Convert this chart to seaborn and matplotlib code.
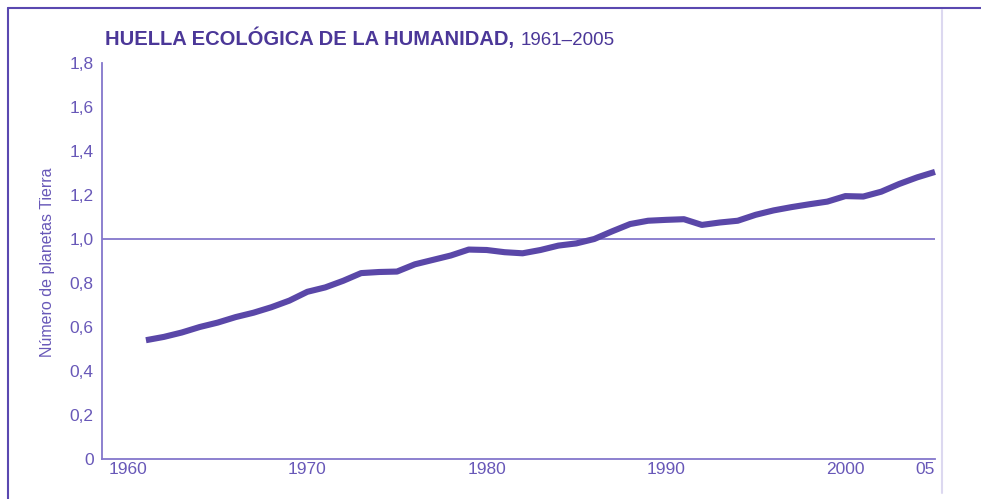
import seaborn as sns
import pandas as pd
import matplotlib.pyplot as plt
from matplotlib.lines import Line2D

# Datos
years = list(range(1961, 2006))
planets = [0.54, 0.555, 0.575, 0.60, 0.62, 0.645, 0.665, 0.69, 0.72, 0.76,
           0.78, 0.81, 0.845, 0.85, 0.852, 0.885, 0.905, 0.925, 0.952, 0.95,
           0.94, 0.935, 0.95, 0.97, 0.98, 1.0, 1.035, 1.068, 1.083, 1.087,
           1.09, 1.064, 1.075, 1.083, 1.11, 1.13, 1.145, 1.158, 1.17, 1.195,
           1.193, 1.215, 1.25, 1.28, 1.305]
xticks = [1960, 1970, 1980, 1990, 2000, 2005]
xticklabels = ["1960", "1970", "1980", "1990", "2000", "05"]
yticks = [0, 0.2, 0.4, 0.6, 0.8, 1.0, 1.2, 1.4, 1.6, 1.8]
yticklabels = ["0", "0,2", "0,4", "0,6", "0,8", "1,0", "1,2", "1,4", "1,6", "1,8"]

data = pd.DataFrame({"Año": years, "Planetas": planets})

sns.set_style("white")
plt.rcParams['font.family'] = ['Liberation Sans', 'DejaVu Sans']

line_c = "#5a47a8"
axis_c = "#8476cc"
text_c = "#6858b8"
title_c = "#4b3798"

W, H = 981, 499
fig = plt.figure(figsize=(W / 100, H / 100), dpi=100)
ax = fig.add_axes([102 / W, (H - 459) / H, (935 - 102) / W, (459 - 63) / H])

sns.lineplot(data=data, x="Año", y="Planetas", ax=ax, color=line_c,
             linewidth=4.4, solid_capstyle="butt", clip_on=False)
ax.axhline(1.0, color=axis_c, linewidth=1.3, zorder=1)

ax.set_xlim(1958.55, 2005)
ax.set_ylim(0, 1.8)
ax.set_xticks(xticks)
ax.set_xticklabels(xticklabels)
ax.set_yticks(yticks)
ax.set_yticklabels(yticklabels)
ax.tick_params(axis="y", direction="in", length=18, width=1.3, color=axis_c,
               labelcolor=text_c, labelsize=12.5, pad=6)
ax.tick_params(axis="x", direction="in", length=9, width=1.3, color=axis_c,
               labelcolor=text_c, labelsize=12.5, pad=2)
ax.get_xticklabels()[-1].set_horizontalalignment("right")

for s in ["top", "right"]:
    ax.spines[s].set_visible(False)
for s in ["left", "bottom"]:
    ax.spines[s].set_color(axis_c)
    ax.spines[s].set_linewidth(1.3)

ax.set_xlabel("")
ax.set_ylabel("")
fig.text(48 / W, 1 - 262 / H, "Número de planetas Tierra", rotation=90,
         ha="center", va="center", color=text_c, fontsize=11.5)

fig.text(105 / W, 1 - 45 / H, "HUELLA ECOLÓGICA DE LA HUMANIDAD,",
         ha="left", va="baseline", color=title_c, fontsize=14.5,
         fontweight="bold")
fig.text(521 / W, 1 - 45 / H, "1961–2005", ha="left", va="baseline",
         color=title_c, fontsize=13.5)

# marco
fig.add_artist(Line2D([8 / W, 8 / W], [0, 1 - 8 / H], transform=fig.transFigure,
                      color="#5a48b0", linewidth=1.5))
fig.add_artist(Line2D([8 / W, 1], [1 - 8 / H, 1 - 8 / H], transform=fig.transFigure,
                      color="#5a48b0", linewidth=1.5))
fig.add_artist(Line2D([942 / W, 942 / W], [1 - 493 / H, 1 - 10 / H],
                      transform=fig.transFigure, color="#dcd8f0", linewidth=1.5))

fig.savefig("out.png", dpi=100)
